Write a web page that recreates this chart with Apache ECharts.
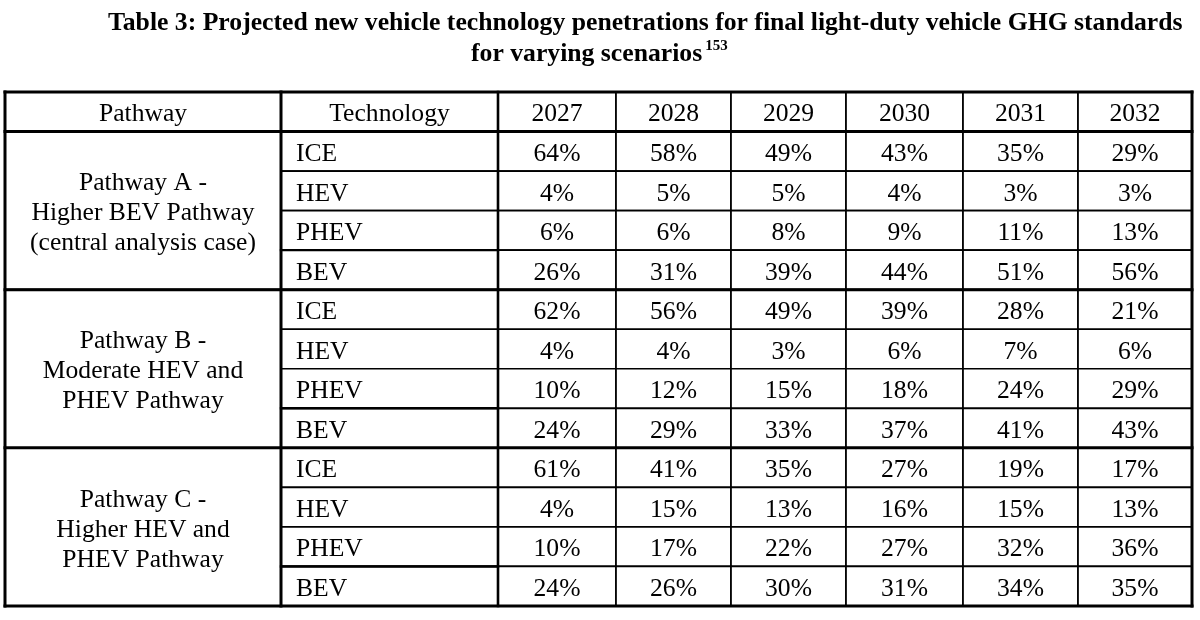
<!DOCTYPE html>
<html>
<head>
<meta charset="utf-8">
<script src="https://cdn.jsdelivr.net/npm/echarts@6/dist/echarts.min.js"></script>
<style>
html,body{margin:0;padding:0;background:#fff;}
#chart{width:1200px;height:620px;}
</style>
</head>
<body>
<div id="chart"></div>
<script>
// ---- data ----
const titleLine1 = 'Table 3: Projected new vehicle technology penetrations for final light-duty vehicle GHG standards';
const titleLine2 = 'for varying scenarios';
const footnoteMark = '153';
const headerLabels = ['Pathway', 'Technology'];
const years = ['2027', '2028', '2029', '2030', '2031', '2032'];
const technologies = ['ICE', 'HEV', 'PHEV', 'BEV'];
const pathwayLabels = [
  'Pathway A -\nHigher BEV Pathway\n(central analysis case)',
  'Pathway B -\nModerate HEV and\nPHEV Pathway',
  'Pathway C -\nHigher HEV and\nPHEV Pathway'
];
const pathwayA = [
  [64, 58, 49, 43, 35, 29],
  [4, 5, 5, 4, 3, 3],
  [6, 6, 8, 9, 11, 13],
  [26, 31, 39, 44, 51, 56]
];
const pathwayB = [
  [62, 56, 49, 39, 28, 21],
  [4, 4, 3, 6, 7, 6],
  [10, 12, 15, 18, 24, 29],
  [24, 29, 33, 37, 41, 43]
];
const pathwayC = [
  [61, 41, 35, 27, 19, 17],
  [4, 15, 13, 16, 15, 13],
  [10, 17, 22, 27, 32, 36],
  [24, 26, 30, 31, 34, 35]
];

// ---- layout (column widths in table units) ----
const colWidths = [276, 217, 118, 115, 115, 117, 115, 114];
const colEdges = [0];
colWidths.forEach(w => colEdges.push(colEdges[colEdges.length - 1] + w));
const totalRows = 1 + technologies.length * 3;
const FONT = "'Liberation Serif','Times New Roman',serif";

// ---- build cells ----
const allPathways = [pathwayA, pathwayB, pathwayC];
const cells = [];
cells.push({ value: [0, 0, 1], text: headerLabels[0], align: 'center' });
cells.push({ value: [1, 0, 1], text: headerLabels[1], align: 'center' });
years.forEach((y, i) => cells.push({ value: [2 + i, 0, 1], text: y, align: 'center' }));
allPathways.forEach((pw, g) => {
  const r0 = 1 + g * technologies.length;
  cells.push({ value: [0, r0, technologies.length], text: pathwayLabels[g], align: 'center', multi: true });
  technologies.forEach((t, ti) => {
    cells.push({ value: [1, r0 + ti, 1], text: t, align: 'left' });
    pw[ti].forEach((v, yi) => cells.push({ value: [2 + yi, r0 + ti, 1], text: v + '%', align: 'center' }));
  });
});

// ---- border lines (thick) ----
const lines = [];
const lastCol = colEdges.length - 1;
[0, 1, 5, 9, 13].forEach(r => lines.push({ value: [0, r, lastCol, r], w: 3 }));
[0, 1, 2, lastCol].forEach(c => lines.push({ value: [c, 0, c, totalRows], w: c === 2 ? 2.6 : 3 }));
[4, 8, 12].forEach(r => lines.push({ value: [1, r, 2, r], w: 2.4 }));

const chart = echarts.init(document.getElementById('chart'), null, { renderer: 'canvas' });
chart.setOption({
  backgroundColor: '#fff',
  animation: false,
  graphic: [
    {
      type: 'text', left: 108, top: 10,
      style: { text: titleLine1, font: 'bold 25.7px ' + FONT, fill: '#000' }
    },
    {
      type: 'text', left: 471, top: 37,
      style: {
        text: '{m|' + titleLine2 + '}{s|' + footnoteMark + '}',
        rich: {
          m: { font: 'bold 25.7px ' + FONT, fill: '#000', lineHeight: 30, verticalAlign: 'bottom' },
          s: { font: 'bold 15px ' + FONT, fill: '#000', lineHeight: 30, verticalAlign: 'top', padding: [2, 0, 0, 3] }
        }
      }
    }
  ],
  grid: { left: 5, right: 8, top: 92, bottom: 14 },
  xAxis: { type: 'value', min: 0, max: colEdges[lastCol], show: false },
  yAxis: { type: 'value', min: 0, max: totalRows, inverse: true, show: false },
  series: [
    {
      type: 'custom',
      clip: false,
      data: cells.map(c => c.value),
      renderItem: function (params, api) {
        const c = cells[params.dataIndex];
        const col = api.value(0), row = api.value(1), span = api.value(2);
        const p0 = api.coord([colEdges[col], row]);
        const p1 = api.coord([colEdges[col + 1], row + span]);
        const w = p1[0] - p0[0], h = p1[1] - p0[1];
        const tx = c.align === 'left' ? p0[0] + 15 : p0[0] + w / 2;
        return {
          type: 'group',
          children: [
            { type: 'rect', shape: { x: p0[0], y: p0[1], width: w, height: h },
              style: { fill: '#fff', stroke: '#000', lineWidth: 1.7 } },
            { type: 'text', x: tx, y: p0[1] + h / 2 + 3,
              style: { text: c.text, font: '25.6px ' + FONT, fill: '#000',
                       align: c.align, verticalAlign: 'middle', lineHeight: 30 } }
          ]
        };
      }
    },
    {
      type: 'custom',
      clip: false,
      data: lines.map(l => l.value),
      renderItem: function (params, api) {
        const l = lines[params.dataIndex];
        const a = api.coord([colEdges[api.value(0)], api.value(1)]);
        const b = api.coord([colEdges[api.value(2)], api.value(3)]);
        return { type: 'line', shape: { x1: a[0], y1: a[1], x2: b[0], y2: b[1] },
                 style: { stroke: '#000', lineWidth: l.w, lineCap: 'square' } };
      }
    }
  ]
});
</script>
</body>
</html>
